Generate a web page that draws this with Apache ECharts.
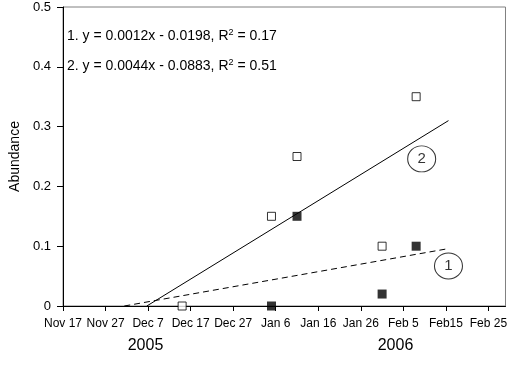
<!DOCTYPE html>
<html>
<head>
<meta charset="utf-8">
<script src="https://cdn.jsdelivr.net/npm/echarts@6/dist/echarts.min.js"></script>
<style>html,body{margin:0;padding:0;background:#fff;}#c{width:510px;height:368px;}</style>
</head>
<body>
<div id="c"></div>
<script>
// Origin of the day scale
var originDate = '2005-11-17';
// X tick labels (every 10 days from Nov 17)
var xTickLabels = ['Nov 17','Nov 27','Dec 7','Dec 17','Dec 27','Jan 6','Jan 16','Jan 26','Feb 5','Feb15','Feb 25'];
var yearLabels = ['2005', '2006'];
// Series 1 (filled squares)
var s1Dates = ['2006-01-05','2006-01-11','2006-01-31','2006-02-08'];
var s1Values = [0, 0.15, 0.02, 0.10];
// Series 2 (open squares)
var s2Dates = ['2005-12-15','2006-01-05','2006-01-11','2006-01-31','2006-02-08'];
var s2Values = [0, 0.15, 0.25, 0.10, 0.35];
// Regression line endpoints (day offset, value)
var fit1Days = [14.4, 90.6];
var fit1Values = [0, 0.096];
var fit2Days = [19.7, 90.6];
var fit2Values = [0, 0.31];
// Circled labels positions (day, value)
var circleLabels = ['1', '2'];
var circleDays = [90.6, 84.3];
var circleValues = [0.067, 0.246];
var eq1 = ['1. y = 0.0012x - 0.0198, R', '2', ' = 0.17'];
var eq2 = ['2. y = 0.0044x - 0.0883, R', '2', ' = 0.51'];

function dayOf(s){
  var p = s.split('-'), o = originDate.split('-');
  return (Date.UTC(+p[0], +p[1]-1, +p[2]) - Date.UTC(+o[0], +o[1]-1, +o[2])) / 86400000;
}
function pairs(xs, ys){ return xs.map(function(x,i){ return [x, ys[i]]; }); }

var font = '"Liberation Sans", Arial, sans-serif';
var tickVals = xTickLabels.map(function(_, i){ return i*10; });

var chart = echarts.init(document.getElementById('c'), null, {renderer:'canvas'});
var option = {
  animation: false,
  backgroundColor: '#fff',
  textStyle: {fontFamily: font},
  grid: {left: 59, right: 1, top: 7, bottom: 62, show: true, borderColor: '#808080', borderWidth: 1, backgroundColor: 'transparent'},
  xAxis: {
    type: 'value', min: 0, max: 104, interval: 10,
    axisLine: {show: true, lineStyle: {color: '#000', width: 1}},
    axisTick: {show: true, inside: false, length: 5, lineStyle: {color: '#000'}, customValues: tickVals},
    axisLabel: {color: '#000', fontSize: 12, fontFamily: font, margin: 12, customValues: tickVals,
      formatter: function(v){ return xTickLabels[Math.round(v/10)] || ''; }},
    splitLine: {show: false}
  },
  yAxis: {
    type: 'value', min: 0, max: 0.5, interval: 0.1,
    name: 'Abundance', nameLocation: 'middle', nameGap: 41,
    nameTextStyle: {color: '#000', fontSize: 14, fontFamily: font},
    axisLine: {show: true, lineStyle: {color: '#000', width: 1}},
    axisTick: {show: true, inside: false, length: 6, lineStyle: {color: '#000'}},
    axisLabel: {color: '#000', fontSize: 13, fontFamily: font, margin: 12,
      formatter: function(v){ return v === 0 ? '0' : v.toFixed(1); }},
    splitLine: {show: false}
  },
  series: [
    {type: 'line', data: pairs(fit1Days, fit1Values), symbol: 'none', silent: true,
      lineStyle: {color: '#000', width: 1, type: [6, 4]}, z: 2},
    {type: 'line', data: pairs(fit2Days, fit2Values), symbol: 'none', silent: true,
      lineStyle: {color: '#000', width: 1}, z: 2},
    {type: 'scatter', data: pairs(s2Dates.map(dayOf), s2Values), symbol: 'rect', symbolSize: 8,
      itemStyle: {color: '#fff', borderColor: '#000', borderWidth: 1}, z: 3},
    {type: 'scatter', data: pairs(s1Dates.map(dayOf), s1Values), symbol: 'rect', symbolSize: 9,
      itemStyle: {color: '#000', borderColor: '#000', borderWidth: 0}, z: 4},
    {type: 'scatter', data: circleLabels.map(function(l, i){ return {value: [circleDays[i], circleValues[i]], name: l}; }),
      symbol: 'circle', symbolSize: [28, 26],
      itemStyle: {color: '#fff', borderColor: '#000', borderWidth: 1}, z: 5,
      label: {show: true, position: 'inside', formatter: '{b}', color: '#000', fontSize: 15, fontFamily: font}}
  ],
  graphic: [
    {type: 'text', left: 67, top: 28, z: 10, style: {
      text: '{a|' + eq1[0] + '}{s|' + eq1[1] + '}{a|' + eq1[2] + '}',
      rich: {a: {fontSize: 14, fontFamily: font, fill: '#000', lineHeight: 17},
             s: {fontSize: 9, fontFamily: font, fill: '#000', lineHeight: 17, verticalAlign: 'top', padding: [0,0,8,0]}}}},
    {type: 'text', left: 67, top: 58, z: 10, style: {
      text: '{a|' + eq2[0] + '}{s|' + eq2[1] + '}{a|' + eq2[2] + '}',
      rich: {a: {fontSize: 14, fontFamily: font, fill: '#000', lineHeight: 17},
             s: {fontSize: 9, fontFamily: font, fill: '#000', lineHeight: 17, verticalAlign: 'top', padding: [0,0,8,0]}}}},
    {type: 'text', x: 145.5, y: 346, z: 10, style: {text: yearLabels[0], fontSize: 16, fontFamily: font, fill: '#000', align: 'center', verticalAlign: 'middle'}},
    {type: 'text', x: 395.5, y: 346, z: 10, style: {text: yearLabels[1], fontSize: 16, fontFamily: font, fill: '#000', align: 'center', verticalAlign: 'middle'}}
  ]
};
chart.setOption(option);
</script>
</body>
</html>
